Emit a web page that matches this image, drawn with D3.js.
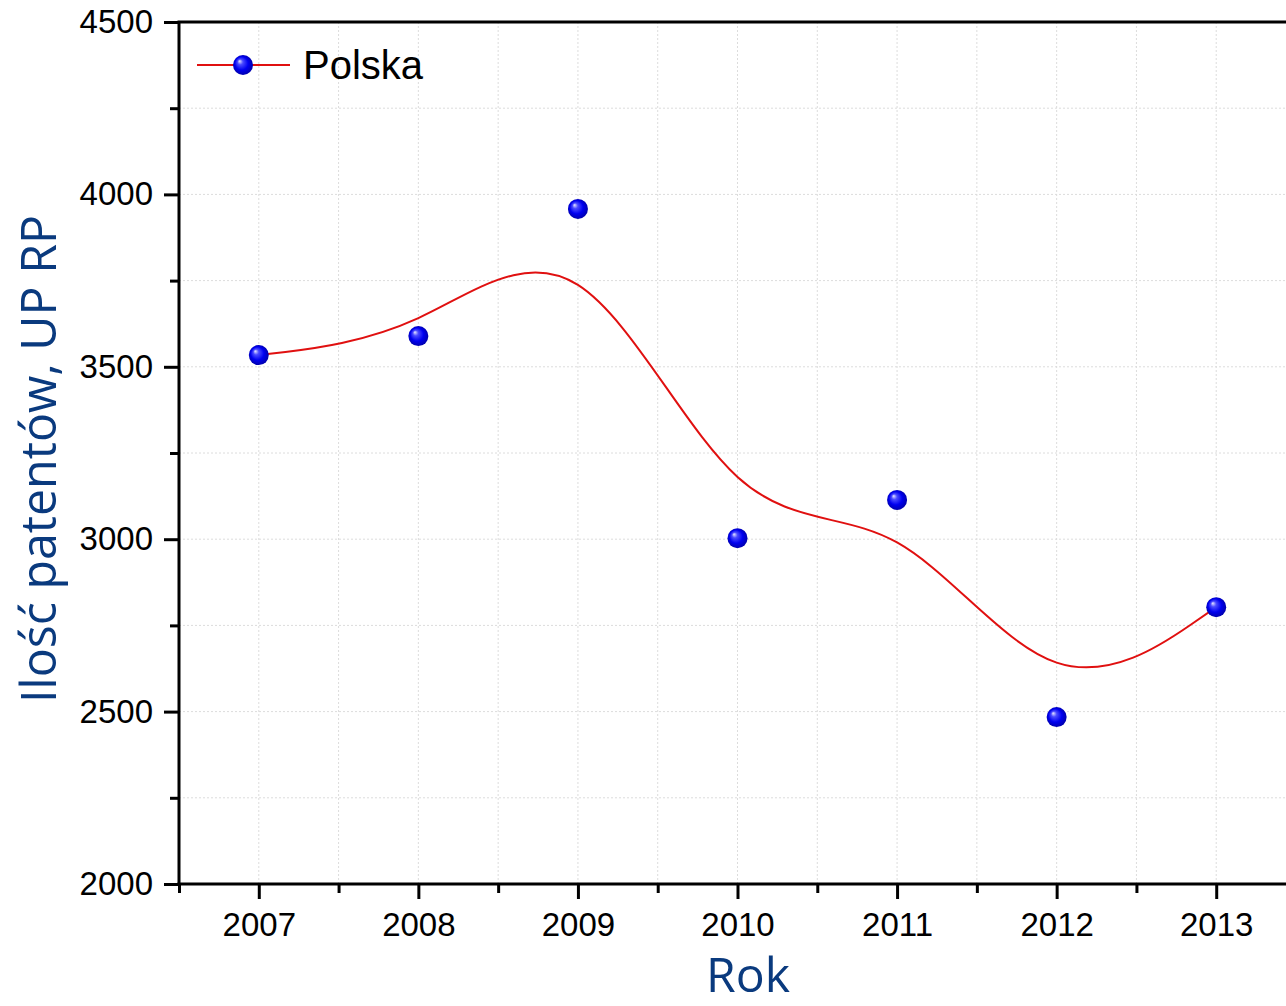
<!DOCTYPE html>
<html>
<head>
<meta charset="utf-8">
<script src="https://cdn.jsdelivr.net/npm/d3@7"></script>
<style>
body { margin: 0; background: #fff; }
svg { display: block; }
</style>
</head>
<body>
<svg></svg>
<script>
var years = [2007, 2008, 2009, 2010, 2011, 2012, 2013]
var patents = [3534, 3589, 3958, 3003, 3114, 2484, 2803]
var yTicks = [2000, 2500, 3000, 3500, 4000, 4500]
var seriesName = "Polska"

var screen = {width:1286,height:1006}
var margins = {top:22,right:0,bottom:122,left:179}

var svg = d3.select("svg")
    .attr("width",screen.width)
    .attr("height",screen.height)

var width = screen.width - margins.left - margins.right
var height = screen.height - margins.top - margins.bottom

var xScale = d3.scaleLinear().domain([2006.5,2013.5]).range([0,1117])
var yScale = d3.scaleLinear().domain([2000,4500]).range([height,0])

// marker gradient
var grad = svg.append("defs").append("radialGradient")
    .attr("id","ball")
    .attr("cx","50%").attr("cy","50%").attr("r","55%")
    .attr("fx","32%").attr("fy","30%")
grad.append("stop").attr("offset","0%").attr("stop-color","#e8e8ff")
grad.append("stop").attr("offset","25%").attr("stop-color","#4a4aff")
grad.append("stop").attr("offset","60%").attr("stop-color","#0000f0")
grad.append("stop").attr("offset","100%").attr("stop-color","#0000a0")

var graph = svg.append("g")
    .attr("id","graph")
    .attr("transform","translate("+margins.left+","+margins.top+")")

// grid (every minor tick)
var xGrid = d3.range(2006.5, 2013.51, 0.5)
var yGrid = d3.range(2000, 4501, 250)

graph.append("g").selectAll("line")
    .data(xGrid)
    .enter()
    .append("line")
    .attr("x1",function(d){ return xScale(d) })
    .attr("x2",function(d){ return xScale(d) })
    .attr("y1",0)
    .attr("y2",height)
    .attr("stroke","#dcdcdc")
    .attr("stroke-width",1)
    .attr("stroke-dasharray","2,2")

graph.append("g").selectAll("line")
    .data(yGrid)
    .enter()
    .append("line")
    .attr("x1",0)
    .attr("x2",width)
    .attr("y1",function(d){ return yScale(d) })
    .attr("y2",function(d){ return yScale(d) })
    .attr("stroke","#dcdcdc")
    .attr("stroke-width",1)
    .attr("stroke-dasharray","2,2")

// axes
var xAxis = d3.axisBottom(xScale)
    .tickValues(years)
    .tickFormat(d3.format("d"))
    .tickSize(15)
    .tickPadding(14)

var xMinor = d3.axisBottom(xScale)
    .tickValues(d3.range(2006.5, 2013.51, 1))
    .tickFormat("")
    .tickSize(9)

var yAxis = d3.axisLeft(yScale)
    .tickValues(yTicks)
    .tickFormat(d3.format("d"))
    .tickSize(15)
    .tickPadding(11)

var yMinor = d3.axisLeft(yScale)
    .tickValues(d3.range(2250, 4500, 500))
    .tickFormat("")
    .tickSize(9)

var styleAxis = function(g)
{
    g.select(".domain").remove()
    g.selectAll("line").attr("stroke","#000").attr("stroke-width",3)
    g.selectAll("text")
        .attr("fill","#000")
        .style("font-family","'Liberation Sans', Arial, sans-serif")
        .style("font-size","33px")
}

graph.append("g").attr("transform","translate(0,"+height+")").call(xAxis).call(styleAxis)
graph.append("g").attr("transform","translate(0,"+height+")").call(xMinor).call(styleAxis)
graph.append("g").call(yAxis).call(styleAxis)
graph.append("g").call(yMinor).call(styleAxis)

// frame lines
graph.append("line")
    .attr("x1",0).attr("x2",0).attr("y1",0).attr("y2",height+1.5)
    .attr("stroke","#000").attr("stroke-width",3)
graph.append("line")
    .attr("x1",-1.5).attr("x2",width).attr("y1",height).attr("y2",height)
    .attr("stroke","#000").attr("stroke-width",3)
graph.append("line")
    .attr("x1",-1.5).attr("x2",width).attr("y1",0).attr("y2",0)
    .attr("stroke","#000").attr("stroke-width",3)

// smoothed line
var lineGenerator = d3.line()
    .x(function(d,i){ return xScale(years[i]) })
    .y(function(d){ return yScale(d) })
    .curve(d3.curveBasis)

graph.append("path")
    .datum(patents)
    .attr("d",lineGenerator)
    .attr("fill","none")
    .attr("stroke","#e01010")
    .attr("stroke-width",2)

graph.append("g").selectAll("circle")
    .data(patents)
    .enter()
    .append("circle")
    .attr("cx",function(d,i){ return xScale(years[i]) })
    .attr("cy",function(d){ return yScale(d) })
    .attr("r",10)
    .attr("fill","url(#ball)")

// legend
var legend = svg.append("g").attr("transform","translate(197,65)")
legend.append("line")
    .attr("x1",0).attr("x2",93).attr("y1",0).attr("y2",0)
    .attr("stroke","#e01010").attr("stroke-width",2)
legend.append("circle")
    .attr("cx",46).attr("cy",0).attr("r",10)
    .attr("fill","url(#ball)")
legend.append("text")
    .attr("x",106).attr("y",14)
    .text(seriesName)
    .style("font-family","'Liberation Sans', Arial, sans-serif")
    .style("font-size","40px")
    .attr("fill","#000")

// axis titles
svg.append("text")
    .attr("x",748)
    .attr("y",992)
    .attr("text-anchor","middle")
    .text("Rok")
    .attr("fill","#0a3a7e")
    .style("font-family","'Open Sans', sans-serif")
    .style("font-size","48px")
    .attr("textLength",84)
    .attr("lengthAdjust","spacingAndGlyphs")

svg.append("text")
    .attr("transform","translate(56,459) rotate(-90)")
    .attr("text-anchor","middle")
    .text("Ilość patentów, UP RP")
    .attr("fill","#0a3a7e")
    .style("font-family","'Open Sans', sans-serif")
    .style("font-size","50px")
    .attr("textLength",488)
    .attr("lengthAdjust","spacingAndGlyphs")
</script>
</body>
</html>
